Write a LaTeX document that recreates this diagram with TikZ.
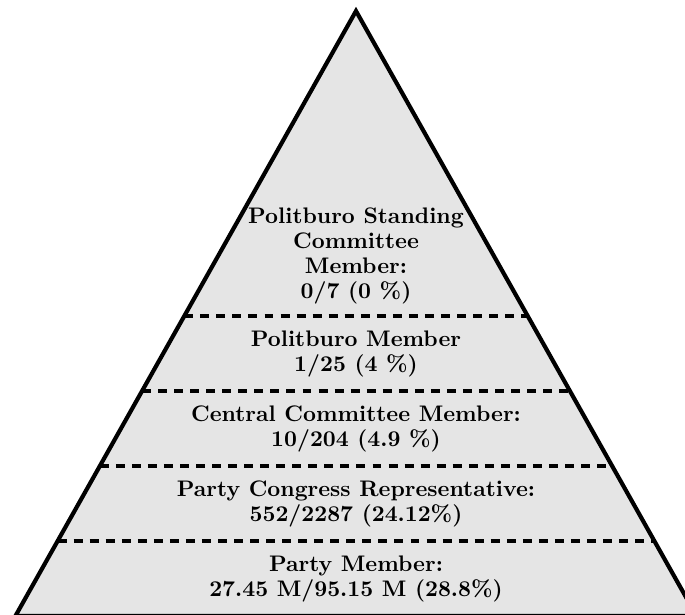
\documentclass[tikz,border=0pt]{standalone}
\tikzset{
  layer/.style={font=\fontsize{10.8}{12.1}\selectfont\bfseries, align=center, inner sep=0pt},
  divider/.style={line width=1.5pt, dash pattern=on 4.3pt off 3.4pt},
}
\begin{document}
\begin{tikzpicture}[x=0.48pt,y=-0.48pt]
  \clip (0,0) rectangle (685,614);
  \useasboundingbox (0,0) rectangle (685,614);
  % Pyramid
  \draw [line width=2pt, fill=black!10] (356,11) -- (696.6,616) -- (15.4,616) -- cycle;
  % Dividers
  \draw [divider] (184.3,316) -- (527.7,316);
  \draw [divider] (142.1,391) -- (569.9,391);
  \draw [divider] (99.8,466) -- (612.2,466);
  \draw [divider] (57.6,541) -- (654.4,541);
  % Layer: Standing Committee
  \node [layer] (psc) at (356,256) {Politburo Standing\\ Committee\\ Member:\\ 0/7 (0 \%)};
  % Layer: Politburo
  \node [layer] (pb) at (356,354) {Politburo Member\\ 1/25 (4 \%)};
  % Layer: Central Committee
  \node [layer] (cc) at (356,429) {Central Committee Member:\\ 10/204 (4.9 \%)};
  % Layer: Party Congress
  \node [layer] (pcr) at (356,504) {Party Congress Representative:\\ 552/2287 (24.12\%)};
  % Layer: Party Member
  \node [layer] (pm) at (356,579) {Party Member:\\ 27.45 M/95.15 M (28.8\%)};
\end{tikzpicture}
\end{document}
